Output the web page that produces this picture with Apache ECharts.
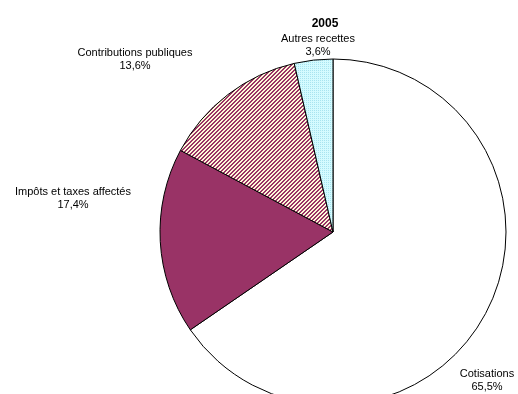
<!DOCTYPE html>
<html>
<head>
<meta charset="utf-8">
<script src="https://cdn.jsdelivr.net/npm/echarts@6/dist/echarts.min.js"></script>
<style>
  html, body { margin: 0; padding: 0; background: #fff; }
  #chart { width: 518px; height: 394px; }
</style>
</head>
<body>
<div id="chart"></div>
<script>
// Recettes de la protection sociale, 2005 (en %)
const year = '2005';
const categories = ['Cotisations', 'Impôts et taxes affectés', 'Contributions publiques', 'Autres recettes'];
const shares = [65.5, 17.4, 13.6, 3.6];

// Hatched fill: diagonal purple / cream stripes
function makeHatch() {
  const c = document.createElement('canvas');
  c.width = 4; c.height = 4;
  const g = c.getContext('2d');
  g.fillStyle = '#fff8d8';
  g.fillRect(0, 0, 4, 4);
  g.fillStyle = '#993366';
  for (let i = 0; i < 4; i++) {
    g.fillRect(i, (3 - i) % 4, 1, 1);
    g.fillRect(i, (4 - i) % 4, 1, 1);
  }
  return c;
}
// Light cyan fill with fine dots
function makeDots() {
  const c = document.createElement('canvas');
  c.width = 2; c.height = 2;
  const g = c.getContext('2d');
  g.fillStyle = '#d4fbff';
  g.fillRect(0, 0, 2, 2);
  g.fillStyle = '#a8e4f0';
  g.fillRect(0, 0, 1, 1);
  return c;
}

const fills = [
  '#ffffff',
  '#993366',
  { image: makeHatch(), repeat: 'repeat' },
  { image: makeDots(), repeat: 'repeat' }
];

// Label anchor points (block centres)
const labelSpots = [[487, 380], [73, 198], [135, 59], [318, 45]];

const fmt = v => v.toFixed(1).replace('.', ',') + '%';

const chart = echarts.init(document.getElementById('chart'), null, { renderer: 'canvas' });
chart.setOption({
  animation: false,
  backgroundColor: '#ffffff',
  title: {
    text: year,
    left: 320,
    top: 13,
    textAlign: 'center',
    textStyle: { fontFamily: 'Liberation Sans, Arial, sans-serif', fontSize: 12, fontWeight: 'bold', color: '#000' }
  },
  series: [{
    type: 'pie',
    center: [333, 232],
    radius: 173,
    startAngle: 90,
    clockwise: true,
    avoidLabelOverlap: false,
    silent: true,
    data: categories.map((name, i) => ({
      name,
      value: shares[i],
      itemStyle: { color: fills[i] }
    })),
    itemStyle: { borderColor: '#000', borderWidth: 1 },
    label: {
      show: true,
      position: 'outside',
      formatter: p => p.name + '\n' + fmt(p.value),
      fontFamily: 'Liberation Sans, Arial, sans-serif',
      fontSize: 11,
      lineHeight: 13,
      color: '#000',
      align: 'center'
    },
    labelLine: { show: false },
    labelLayout: p => ({
      x: labelSpots[p.dataIndex][0],
      y: labelSpots[p.dataIndex][1],
      align: 'center',
      verticalAlign: 'middle'
    })
  }]
});
</script>
</body>
</html>
